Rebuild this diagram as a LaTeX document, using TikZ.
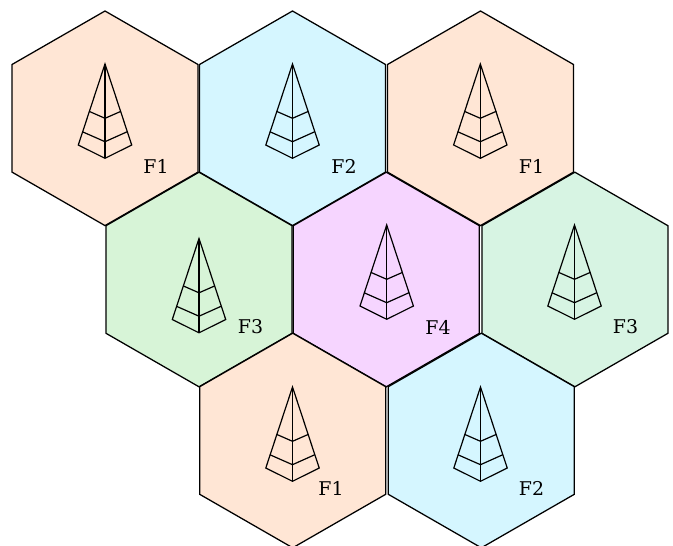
\documentclass[tikz,border=0pt]{standalone}
\usepackage{fontspec}
\setmainfont{DejaVu Serif}
\definecolor{peach}{HTML}{FFE6D5}
\definecolor{sky}{HTML}{D5F6FF}
\definecolor{leaf}{HTML}{D7F4D7}
\definecolor{mint}{HTML}{D7F4E3}
\definecolor{lilac}{HTML}{F6D5FF}
\tikzset{
  x=0.75pt,y=-0.75pt,
  hexline/.style={draw=black,line width=0.95pt,line join=miter},
  treeline/.style={draw=black,line width=0.9pt,line join=miter},
  cell/.style={font=\fontsize{14.2}{16}\selectfont,text=black,inner sep=0pt},
  pics/hexcell/.style={code={
    \path[hexline,fill=#1] (0,-107.3) -- (93,-53.8) -- (93,53.8) -- (0,107.3) -- (-93,53.8) -- (-93,-53.8) -- cycle;
  }},
  pics/antenna/.style={code={
    \path[treeline] (0,0) -- (0,94.3);
    \path[treeline] (0,0) -- (-26.7,81) -- (0,94.3) -- (26.7,81) -- cycle;
    \path[treeline] (-22.7,67.7) -- (0,77.7) -- (22.3,67.7);
    \path[treeline] (-16,47.3) -- (0,54.3) -- (16,47.3);
  }}
}
\begin{document}
\begin{tikzpicture}
\useasboundingbox (0,0) rectangle (673,545);
\pic at (105,118.3) {hexcell=peach};
\pic at (292.5,118.3) {hexcell=sky};
\pic at (480.5,118.3) {hexcell=peach};
\pic at (199,279.5) {hexcell=leaf};
\pic at (386.3,279.5) {hexcell=lilac};
\pic at (574.9,279.5) {hexcell=mint};
\pic at (292.7,440.5) {hexcell=peach};
\pic at (481.3,440.5) {hexcell=sky};
\pic at (105,64) {antenna};
\pic at (292.5,64) {antenna};
\pic at (480.3,64) {antenna};
\pic at (199,238.5) {antenna};
\pic at (386.7,225) {antenna};
\pic at (574.5,225) {antenna};
\pic at (292.5,387) {antenna};
\pic at (480.5,387) {antenna};
\node[cell] (f1a) at (156,166) {F1};
\node[cell] (f2a) at (344,166) {F2};
\node[cell] (f1b) at (531.5,166) {F1};
\node[cell] (f3a) at (250.5,327) {F3};
\node[cell] (f4) at (438,327) {F4};
\node[cell] (f3b) at (625.5,327) {F3};
\node[cell] (f1c) at (331,488) {F1};
\node[cell] (f2b) at (531.5,488) {F2};
\end{tikzpicture}
\end{document}
